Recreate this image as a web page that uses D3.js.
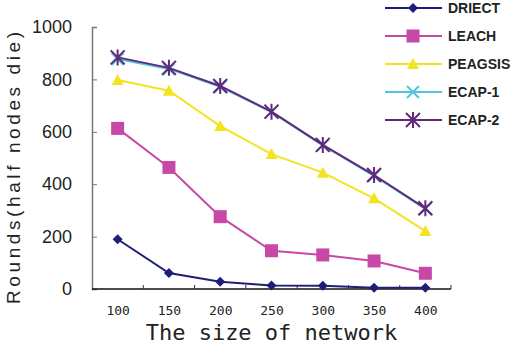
<!DOCTYPE html>
<html>
<head>
<meta charset="utf-8">
<script src="https://cdn.jsdelivr.net/npm/d3@7"></script>
<style>
  body { margin: 0; background: #fff; }
  svg { display: block; }
</style>
</head>
<body>
<div class="chart"></div>
<script>
const sizes = [100, 150, 200, 250, 300, 350, 400];
const driect = [190, 61, 28, 13, 12, 5, 5];
const leach = [613, 464, 276, 146, 130, 107, 60];
const peagsis = [798, 757, 622, 515, 444, 346, 221];
const ecap1 = [878, 840, 772, 675, 548, 432, 306];
const ecap2 = [884, 844, 775, 677, 550, 435, 308];
const yTicks = [0, 200, 400, 600, 800, 1000];

const series = [
  { name: 'DRIECT', values: driect, color: '#1e1e78', marker: 'diamond' },
  { name: 'LEACH', values: leach, color: '#c848a8', marker: 'square' },
  { name: 'PEAGSIS', values: peagsis, color: '#f2e51e', marker: 'triangle' },
  { name: 'ECAP-1', values: ecap1, color: '#4ec8e0', marker: 'x' },
  { name: 'ECAP-2', values: ecap2, color: '#642878', marker: 'star' }
];

const width = 511, height = 345;
const plotLeft = 92, plotRight = 451, plotTop = 27, plotBottom = 289;

const svg = d3.select('.chart').append('svg')
  .attr('width', width).attr('height', height);

const xScale = d3.scalePoint().domain(sizes).range([plotLeft, plotRight]).padding(0.5);
const yScale = d3.scaleLinear().domain([0, 1000]).range([plotBottom, plotTop]);

// y axis
const yAxis = d3.axisLeft(yScale).tickValues(yTicks).tickFormat(d3.format('d')).tickSize(-5).tickPadding(20);
const gy = svg.append('g').attr('transform', `translate(${plotLeft},0)`).call(yAxis);
gy.select('.domain').attr('stroke', '#777').attr('stroke-width', 1.5);
gy.selectAll('.tick line').attr('stroke', '#777');
gy.selectAll('.tick text').attr('font-family', 'Liberation Sans, Arial, sans-serif')
  .attr('font-size', 18).attr('fill', '#222');

// x axis, ticks between categories
const step = xScale.step();
const xAxis = d3.axisBottom(xScale).tickSize(0).tickPadding(17);
const gx = svg.append('g').attr('transform', `translate(0,${plotBottom})`).call(xAxis);
gx.select('.domain').attr('d', `M${plotLeft},0H${plotRight}`).attr('stroke', '#111').attr('stroke-width', 1.5);
gx.selectAll('.tick text').attr('font-family', 'DejaVu Sans Mono, monospace')
  .attr('font-size', 13).attr('fill', '#222');
gx.selectAll('.sep').data(sizes).enter().append('line')
  .attr('x1', (d, i) => plotLeft + step * (i + 1)).attr('x2', (d, i) => plotLeft + step * (i + 1))
  .attr('y1', 0).attr('y2', -4).attr('stroke', '#333');

// axis titles
svg.append('text')
  .attr('transform', `translate(20,${(plotTop + plotBottom) / 2 + 10}) rotate(-90)`)
  .attr('text-anchor', 'middle')
  .attr('font-family', 'Liberation Sans, Arial, sans-serif')
  .attr('font-size', 19).attr('fill', '#222')
  .attr('textLength', 272)
  .text('Rounds(half nodes die)');

svg.append('text')
  .attr('x', (plotLeft + plotRight) / 2).attr('y', 340)
  .attr('text-anchor', 'middle')
  .attr('font-family', 'DejaVu Sans Mono, monospace')
  .attr('font-size', 22).attr('fill', '#222')
  .text('The size of network');

function drawMarker(g, type, color) {
  if (type === 'diamond') {
    g.append('path').attr('d', 'M0,-5L5,0L0,5L-5,0Z').attr('fill', color);
  } else if (type === 'square') {
    g.append('rect').attr('x', -6.5).attr('y', -6.5).attr('width', 13).attr('height', 13).attr('fill', color);
  } else if (type === 'triangle') {
    g.append('path').attr('d', 'M0,-6L6,5L-6,5Z').attr('fill', color);
  } else if (type === 'x') {
    g.append('path').attr('d', 'M-6,-6L6,6M-6,6L6,-6').attr('stroke', color).attr('stroke-width', 2);
  } else {
    g.append('path').attr('d', 'M-7,-7L7,7M-7,7L7,-7M0,-8V8').attr('stroke', color).attr('stroke-width', 2);
  }
}

const line = d3.line().x((d, i) => xScale(sizes[i])).y(d => yScale(d));

series.forEach(s => {
  svg.append('path').datum(s.values)
    .attr('d', line).attr('fill', 'none')
    .attr('stroke', s.color).attr('stroke-width', 2);
  s.values.forEach((v, i) => {
    const g = svg.append('g').attr('transform', `translate(${xScale(sizes[i])},${yScale(v)})`);
    drawMarker(g, s.marker, s.color);
  });
});

// legend
const legend = svg.append('g').attr('transform', 'translate(385,8)');
series.forEach((s, i) => {
  const row = legend.append('g').attr('transform', `translate(0,${i * 28})`);
  row.append('line').attr('x1', 0).attr('x2', 57).attr('stroke', s.color).attr('stroke-width', 2);
  const m = row.append('g').attr('transform', 'translate(28,0)');
  drawMarker(m, s.marker, s.color);
  row.append('text').attr('x', 63).attr('y', 5)
    .attr('font-family', 'Liberation Sans, Arial, sans-serif')
    .attr('font-weight', 'bold').attr('font-size', 14).attr('fill', '#222')
    .text(s.name);
});
</script>
</body>
</html>
